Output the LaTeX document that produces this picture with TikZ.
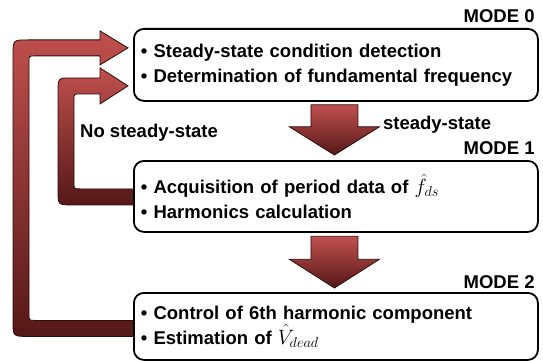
\documentclass[tikz,border=0pt]{standalone}
\usepackage{fontspec}
\setmainfont{Liberation Sans}
\usetikzlibrary{calc,backgrounds}
\definecolor{arrowtop}{RGB}{192,80,77}
\definecolor{arrowbot}{RGB}{85,24,24}
\definecolor{arrowline}{RGB}{45,12,12}
% larger serif math inside the bullet lines
\newcommand{\bigmath}[1]{{\fontsize{22}{25}\selectfont$#1$}}

\begin{document}
\begin{tikzpicture}[x=1pt,y=-1pt,
  every node/.style={font=\fontsize{18.5}{25}\selectfont\bfseries, inner sep=0pt},
  modebox/.style={draw=black, line width=1.8pt, rounded corners=10pt, fill=white,
    anchor=north west, minimum width=404pt, minimum height=72pt,
    text width=390pt, inner xsep=7pt, align=left},
  flowarrow/.style={draw=arrowline, line width=0.8pt, top color=arrowtop, bottom color=arrowbot},
  label/.style={anchor=base east}
]
\useasboundingbox (0,0) rectangle (543,361);

% the three mode boxes
\node[modebox] (m0) at (133,28)
  {\textbullet{} Steady-state condition detection\\
   \textbullet{} Determination of fundamental frequency};
\node[modebox, minimum height=71pt] (m1) at (133,160)
  {\textbullet{} Acquisition of period data of \bigmath{\hat{f}_{ds}}\\
   \textbullet{} Harmonics calculation};
\node[modebox, minimum height=67pt] (m2) at (133,292)
  {\textbullet{} Control of 6th harmonic component\\
   \textbullet{} Estimation of \bigmath{\hat{V}_{dead}}};

% mode titles
\node[label] (t0) at ($(m0.north east)+(-4,-5)$) {MODE 0};
\node[label] (t1) at ($(m1.north east)+(-4,-5.5)$) {MODE 1};
\node[label] (t2) at ($(m2.north east)+(-4,-4)$) {MODE 2};

% transition labels
\node[anchor=base west] (ss) at ($(m0.south)+(47,28)$) {steady-state};
\node[anchor=base west] (nss) at ($(m0.west)+(-53,73)$) {No steady-state};

\begin{scope}[on background layer]
% MODE 0 -> MODE 1
\path[flowarrow]
  ($(m0.south)+(-25,3)$) -- ($(m0.south)+(22,3)$) -- ($(m0.south)+(22,25)$)
  -- ($(m0.south)+(43.5,25)$) -- ($(m1.north)+(-1.5,-5)$)
  -- ($(m0.south)+(-46.5,25)$) -- ($(m0.south)+(-25,25)$) -- cycle;
% MODE 1 -> MODE 2
\path[flowarrow]
  ($(m1.south)+(-25,3.5)$) -- ($(m1.south)+(22,3.5)$) -- ($(m1.south)+(22,26.5)$)
  -- ($(m1.south)+(43.5,26.5)$) -- ($(m2.north)+(-1.5,-4)$)
  -- ($(m1.south)+(-46.5,26.5)$) -- ($(m1.south)+(-25,26.5)$) -- cycle;

% MODE 2 -> MODE 0 (outer loop)
\path[flowarrow]
  ($(m2.west)+(2,10)$) -- ($(m2.west)+(-105,10)$)
  .. controls ($(m2.west)+(-120,10)$) .. ($(m2.west)+(-120,-5)$)
  -- ($(m0.west)+(-120,-10)$)
  .. controls ($(m0.west)+(-120,-25)$) .. ($(m0.west)+(-105,-25)$)
  -- ($(m0.west)+(-33,-25)$) -- ($(m0.west)+(-33,-34)$)
  -- ($(m0.west)+(-5,-17)$) -- ($(m0.west)+(-33,0)$)
  -- ($(m0.west)+(-33,-9)$) -- ($(m0.west)+(-98,-9)$)
  .. controls ($(m0.west)+(-104,-9)$) .. ($(m0.west)+(-104,-3)$)
  -- ($(m2.west)+(-104,-12)$)
  .. controls ($(m2.west)+(-104,-6)$) .. ($(m2.west)+(-98,-6)$)
  -- ($(m2.west)+(2,-6)$) -- cycle;

% MODE 1 -> MODE 0 (inner loop)
\path[flowarrow]
  ($(m1.west)+(2,8.5)$) -- ($(m1.west)+(-61,8.5)$)
  .. controls ($(m1.west)+(-75,8.5)$) .. ($(m1.west)+(-75,-5.5)$)
  -- ($(m0.west)+(-75,27)$)
  .. controls ($(m0.west)+(-75,13)$) .. ($(m0.west)+(-61,13)$)
  -- ($(m0.west)+(-33,13)$) -- ($(m0.west)+(-33,3)$)
  -- ($(m0.west)+(-5,21)$) -- ($(m0.west)+(-33,39)$)
  -- ($(m0.west)+(-33,29)$) -- ($(m0.west)+(-53,29)$)
  .. controls ($(m0.west)+(-59,29)$) .. ($(m0.west)+(-59,35)$)
  -- ($(m1.west)+(-59,-13.5)$)
  .. controls ($(m1.west)+(-59,-7.5)$) .. ($(m1.west)+(-53,-7.5)$)
  -- ($(m1.west)+(2,-7.5)$) -- cycle;
\end{scope}
\end{tikzpicture}
\end{document}
